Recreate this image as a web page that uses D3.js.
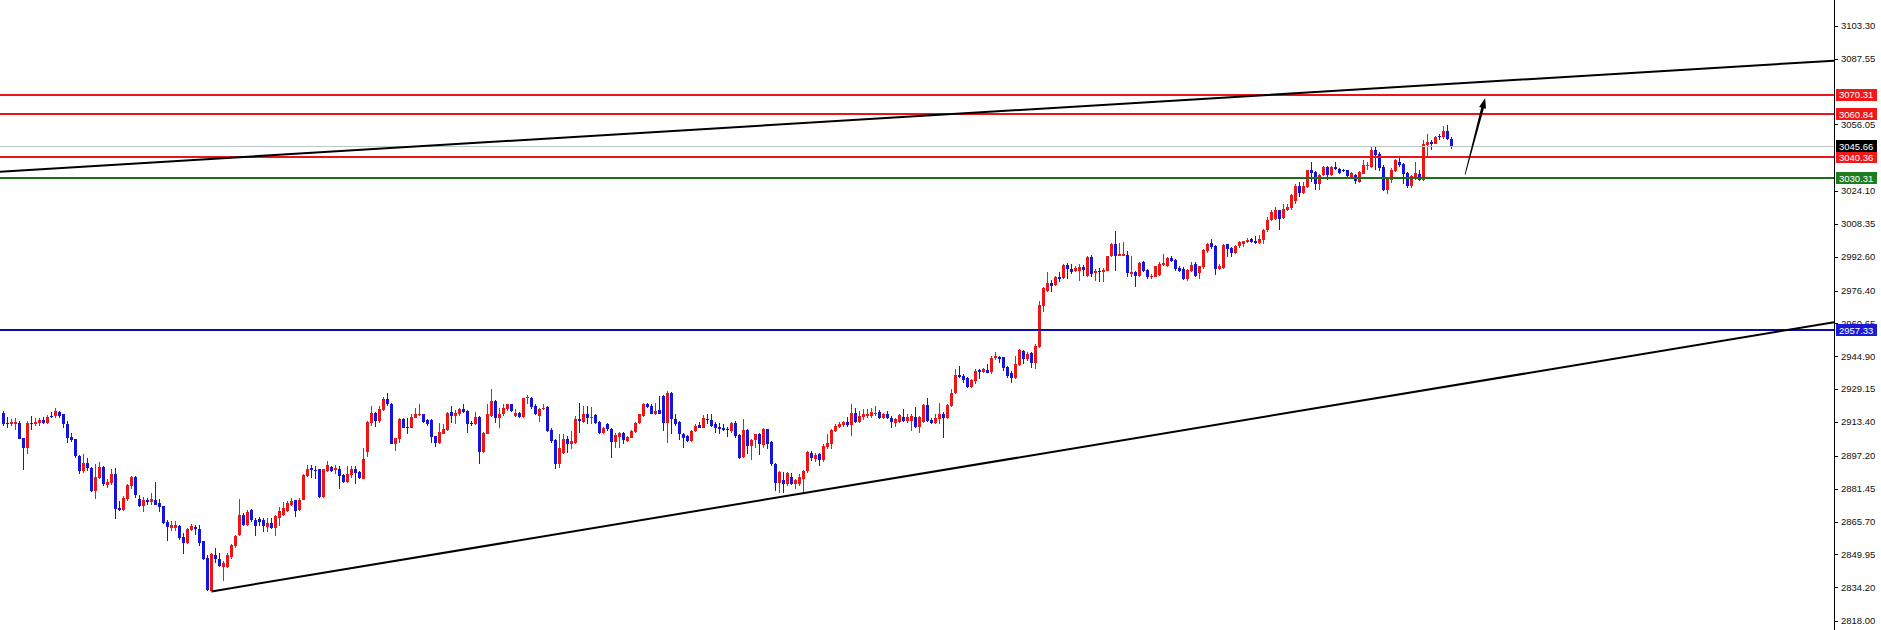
<!DOCTYPE html>
<html>
<head>
<meta charset="utf-8">
<script src="https://cdn.jsdelivr.net/npm/d3@7"></script>
<style>
html,body{margin:0;padding:0;background:#fff;}
svg{display:block;}
</style>
</head>
<body>
<svg id="chart" width="1881" height="630"></svg>
<script>
// ---------------- DATA ----------------
const opens = [2917.9,2913.1,2912.3,2912.6,2913.1,2905.6,2900.8,2913.1,2912.3,2912.8,2914.4,2913.1,2916.3,2916.3,2918.4,2917.1,2912.3,2906.2,2905.1,2897.1,
2889.9,2893.9,2891.5,2880.2,2886.7,2891.8,2883.1,2884.3,2888.3,2872.2,2871.4,2876.6,2882.6,2887.0,2876.7,2873.0,2876.2,2875.1,2876.2,2874.6,
2873.0,2865.5,2862.6,2862.6,2863.4,2858.1,2855.4,2861.8,2862.9,2862.1,2856.2,2848.2,2832.5,2849.8,2847.9,2843.7,2843.9,2848.5,2853.8,2859.1,
2868.7,2863.9,2871.1,2866.6,2866.9,2866.6,2863.1,2865.0,2862.6,2867.4,2869.0,2870.9,2873.8,2875.8,2871.0,2876.2,2887.5,2891.5,2890.3,2890.7,
2877.4,2889.9,2891.8,2890.2,2891.0,2888.0,2884.7,2888.0,2890.7,2889.4,2886.3,2899.2,2913.1,2917.9,2913.9,2919.0,2924.3,2921.9,2903.0,2905.1,
2915.0,2911.0,2910.7,2915.5,2916.6,2917.1,2914.2,2914.2,2906.7,2903.5,2907.8,2909.4,2918.4,2916.3,2917.4,2919.5,2918.7,2913.1,2912.3,2916.0,
2899.2,2907.8,2916.3,2923.5,2915.5,2917.1,2919.5,2921.9,2916.3,2917.9,2916.0,2924.8,2925.1,2921.1,2916.3,2919.5,2920.6,2909.4,2904.6,2893.4,
2898.7,2905.1,2902.7,2903.5,2914.7,2913.6,2917.1,2915.5,2916.8,2913.5,2908.0,2912.3,2909.9,2904.0,2906.2,2908.3,2904.3,2905.9,2908.8,2912.8,
2916.3,2922.2,2921.1,2917.4,2919.0,2925.9,2913.1,2927.5,2914.7,2913.6,2907.8,2906.7,2904.3,2909.1,2912.0,2910.7,2915.0,2914.2,2912.6,2911.0,
2910.4,2910.1,2909.1,2913.1,2907.0,2896.6,2909.4,2901.9,2904.6,2907.5,2902.4,2909.9,2904.0,2893.4,2884.3,2885.4,2883.8,2887.0,2883.8,2883.8,
2886.3,2889.9,2898.7,2895.5,2898.2,2895.0,2901.4,2903.0,2909.1,2911.2,2911.8,2913.6,2911.8,2917.6,2913.4,2915.8,2916.3,2916.3,2917.1,2918.4,
2915.5,2917.4,2915.5,2913.1,2913.6,2915.8,2913.9,2913.9,2915.8,2911.0,2913.6,2921.6,2914.2,2913.1,2914.7,2917.4,2915.2,2921.1,2927.5,2936.0,
2935.5,2934.7,2930.2,2933.1,2938.3,2937.6,2938.3,2937.6,2944.0,2944.7,2944.4,2939.9,2936.7,2934.7,2940.8,2947.6,2943.5,2946.3,2941.5,2949.5,
2969.2,2976.4,2979.9,2979.3,2983.1,2982.5,2988.9,2986.8,2985.7,2986.0,2987.6,2983.6,2992.4,2984.7,2986.0,2985.2,2986.0,2992.8,2998.9,2993.2,
2993.2,2993.7,2984.4,2985.2,2983.6,2990.0,2986.4,2982.8,2983.1,2983.9,2988.9,2988.4,2992.0,2991.2,2987.3,2986.8,2982.0,2986.0,2989.2,2984.7,
2987.6,2995.3,2999.2,2997.6,2986.8,2987.3,2998.5,2996.9,2994.4,2997.6,2998.9,2999.6,3001.3,3000.1,2999.2,3000.8,3005.3,3010.4,3010.8,3014.9,
3011.3,3015.2,3016.1,3019.4,3026.4,3023.2,3026.1,3034.1,3033.3,3027.7,3031.7,3035.7,3031.7,3035.7,3034.9,3034.4,3034.1,3030.9,3031.7,3028.5,
3032.5,3036.0,3035.7,3044.0,3042.1,3035.7,3024.5,3029.3,3033.8,3038.1,3037.3,3032.8,3026.4,3030.1,3032.5,3029.3,3046.1,3047.7,3046.9,3050.4,
3049.8,3053.0,3049.3];
const highs = [2918.7,2915.8,2914.7,2915.2,2913.9,2905.9,2913.9,2916.2,2915.5,2915.5,2915.8,2916.8,2918.4,2920.0,2918.7,2917.4,2913.9,2908.3,2905.4,2897.6,
2897.9,2896.3,2891.8,2893.1,2894.4,2892.1,2885.9,2891.1,2891.5,2875.4,2877.8,2883.8,2887.5,2887.5,2878.6,2877.4,2877.0,2879.4,2884.7,2876.7,
2873.3,2866.6,2865.8,2866.1,2864.2,2860.2,2862.6,2864.5,2864.2,2864.2,2856.5,2849.8,2850.6,2853.0,2850.6,2846.6,2850.6,2854.9,2859.4,2876.7,
2869.8,2871.4,2871.9,2867.4,2867.8,2867.4,2867.4,2867.4,2868.7,2872.6,2875.0,2875.4,2877.0,2876.2,2877.0,2888.3,2892.7,2892.7,2892.3,2890.9,
2891.0,2894.7,2892.3,2892.7,2892.3,2888.6,2892.3,2892.3,2892.3,2889.9,2901.1,2913.9,2921.1,2918.4,2921.1,2925.4,2927.5,2922.4,2905.9,2915.5,
2915.5,2915.5,2917.1,2920.0,2921.9,2917.4,2914.7,2914.7,2906.9,2913.1,2912.3,2918.4,2921.1,2919.0,2920.0,2921.9,2919.0,2913.9,2918.4,2916.3,
2908.6,2921.9,2929.1,2923.8,2920.3,2921.9,2922.2,2922.2,2919.5,2918.4,2925.1,2926.4,2925.4,2921.9,2920.3,2922.2,2921.1,2910.7,2905.1,2907.5,
2907.5,2906.7,2909.1,2916.3,2922.4,2921.1,2921.1,2920.6,2917.4,2913.9,2911.0,2912.8,2910.4,2908.3,2908.6,2908.6,2906.5,2909.4,2913.6,2917.4,
2922.6,2922.6,2921.9,2922.4,2925.9,2926.4,2928.3,2927.9,2917.1,2913.9,2908.3,2907.0,2909.4,2912.3,2913.6,2916.8,2917.4,2917.4,2913.6,2913.1,
2912.3,2911.0,2913.6,2913.9,2907.5,2914.7,2909.9,2905.4,2907.8,2908.3,2910.4,2910.2,2904.3,2893.9,2889.9,2889.4,2889.4,2889.1,2886.3,2888.3,
2890.4,2899.5,2899.5,2898.7,2898.7,2902.7,2907.5,2909.9,2912.3,2913.6,2913.9,2915.8,2921.9,2920.3,2918.7,2919.5,2919.5,2920.3,2921.1,2919.0,
2917.9,2918.7,2916.3,2915.5,2917.4,2919.5,2917.1,2917.1,2920.6,2916.3,2921.9,2925.1,2915.5,2917.1,2922.7,2918.4,2922.2,2929.1,2938.7,2940.3,
2936.3,2935.1,2933.9,2938.7,2938.7,2939.1,2941.1,2945.2,2946.8,2945.2,2944.7,2940.3,2937.9,2945.1,2948.4,2947.9,2946.8,2946.8,2950.8,2971.3,
2978.3,2985.2,2981.5,2983.6,2985.2,2989.2,2989.6,2989.2,2988.4,2989.2,2988.9,2993.2,2993.7,2986.8,2987.3,2987.3,2993.2,2999.2,3004.9,2999.2,
2999.6,2995.6,2993.2,2986.0,2990.0,2990.5,2986.8,2984.4,2988.4,2990.0,2994.0,2992.4,2992.8,2991.6,2988.4,2987.6,2986.8,2990.0,2990.0,2988.4,
2996.4,2999.2,3001.3,2998.1,2989.2,2998.5,2998.9,2997.2,2998.1,3000.1,3000.4,3001.7,3001.7,3002.4,3002.9,3006.1,3011.7,3014.9,3016.4,3015.2,
3017.7,3017.7,3022.9,3027.4,3028.5,3028.5,3034.4,3038.1,3033.6,3032.2,3036.0,3036.0,3036.0,3038.1,3035.4,3034.9,3034.4,3033.3,3032.2,3033.8,
3038.9,3038.1,3045.0,3045.0,3042.9,3036.5,3030.9,3035.4,3039.7,3040.5,3037.6,3033.3,3031.7,3038.1,3034.1,3048.5,3051.7,3048.5,3050.4,3051.4,
3055.3,3055.7,3050.1];
const lows = [2911.5,2910.7,2911.5,2909.4,2905.1,2890.2,2897.9,2909.4,2911.7,2911.7,2912.3,2912.3,2915.5,2915.5,2915.5,2910.4,2903.5,2904.0,2896.3,2888.3,
2889.1,2889.9,2879.9,2876.7,2885.9,2882.6,2881.8,2883.1,2866.9,2870.6,2870.9,2875.4,2881.5,2877.0,2872.6,2870.3,2873.8,2873.8,2873.5,2870.3,
2864.5,2856.5,2861.3,2861.0,2857.0,2850.1,2854.9,2861.0,2859.4,2853.8,2847.4,2832.6,2832.2,2845.8,2843.7,2837.3,2843.4,2847.9,2853.0,2858.6,
2863.4,2863.4,2865.5,2858.9,2863.4,2860.7,2860.7,2862.3,2858.6,2863.4,2868.2,2870.3,2873.0,2867.8,2870.6,2875.8,2887.0,2886.7,2886.3,2877.2,
2877.2,2889.5,2889.5,2888.3,2881.5,2884.2,2884.2,2886.7,2883.9,2886.3,2886.3,2896.6,2911.5,2911.0,2913.1,2918.7,2921.1,2902.7,2899.5,2903.5,
2910.4,2907.5,2910.4,2915.2,2916.3,2913.1,2911.5,2903.5,2901.4,2902.7,2907.5,2909.1,2913.1,2912.3,2916.3,2917.9,2908.3,2911.5,2912.0,2893.4,
2898.7,2907.5,2915.8,2913.1,2910.7,2916.3,2918.7,2918.4,2915.8,2915.5,2915.5,2921.9,2919.5,2916.6,2913.6,2919.0,2908.8,2903.5,2890.7,2891.5,
2898.2,2898.7,2900.3,2903.0,2908.3,2913.1,2912.6,2912.6,2912.3,2907.5,2907.5,2909.1,2896.3,2900.8,2900.8,2902.7,2903.8,2905.6,2908.3,2912.3,
2915.8,2920.3,2917.1,2916.8,2917.1,2909.1,2903.5,2907.8,2911.5,2904.6,2901.1,2904.0,2904.0,2908.8,2910.4,2910.4,2912.3,2911.0,2908.3,2907.5,
2909.1,2906.2,2908.3,2905.9,2895.8,2896.3,2897.9,2895.0,2901.1,2897.6,2900.8,2900.3,2892.3,2880.2,2879.4,2879.4,2882.6,2883.1,2881.5,2882.6,
2879.0,2889.1,2894.7,2894.4,2892.3,2894.4,2900.3,2900.3,2908.8,2910.7,2911.0,2911.0,2906.7,2913.1,2913.1,2914.2,2915.5,2915.5,2916.3,2914.7,
2914.7,2914.7,2910.4,2911.0,2913.1,2913.6,2913.1,2909.1,2910.7,2908.3,2913.1,2913.6,2912.3,2912.3,2912.3,2905.6,2914.7,2920.6,2927.0,2934.4,
2932.3,2929.9,2929.9,2931.5,2933.9,2937.1,2936.7,2936.3,2943.1,2941.9,2937.9,2934.4,2932.3,2933.9,2940.3,2941.1,2942.7,2939.5,2938.7,2948.8,
2966.0,2975.6,2975.6,2978.8,2980.4,2982.0,2982.0,2984.4,2985.2,2980.9,2983.6,2983.1,2983.1,2981.2,2980.4,2980.4,2985.7,2992.4,2986.0,2992.8,
2992.8,2982.8,2982.8,2978.0,2982.8,2985.2,2982.0,2982.0,2982.8,2983.6,2988.4,2987.6,2990.0,2986.0,2985.2,2981.5,2981.2,2985.2,2983.1,2982.0,
2986.8,2994.4,2996.4,2984.1,2986.4,2986.8,2992.4,2992.4,2994.0,2996.9,2997.2,2999.2,2999.2,2998.9,2998.9,2998.9,3004.5,3009.8,3010.1,3005.6,
3010.8,3014.5,3015.2,3017.7,3021.3,3022.9,3025.8,3028.5,3024.5,3024.5,3031.2,3029.3,3031.2,3034.4,3032.5,3033.3,3030.9,3030.6,3027.4,3028.0,
3032.2,3034.1,3035.4,3034.4,3033.8,3024.2,3022.9,3028.0,3033.3,3035.7,3027.4,3025.8,3025.8,3029.3,3029.0,3029.0,3040.8,3044.0,3046.6,3048.5,
3049.3,3048.8,3044.5];
const closes = [2912.3,2912.3,2913.4,2913.4,2905.4,2900.8,2913.1,2912.6,2913.6,2914.4,2913.1,2915.8,2916.0,2918.7,2916.3,2912.3,2905.9,2904.8,2897.1,2889.9,
2893.9,2891.5,2880.2,2887.0,2891.8,2883.5,2884.7,2888.3,2871.9,2871.4,2877.0,2883.0,2887.0,2878.3,2873.0,2876.2,2875.0,2876.7,2873.8,2872.6,
2865.0,2862.9,2864.2,2864.2,2857.8,2855.4,2862.1,2863.4,2862.1,2855.4,2847.7,2833.0,2850.1,2847.9,2844.2,2845.8,2849.8,2854.6,2858.9,2868.7,
2863.9,2870.3,2866.6,2863.4,2865.5,2863.4,2865.0,2862.6,2868.2,2870.6,2872.2,2874.6,2875.4,2870.6,2876.2,2888.0,2891.1,2890.2,2889.9,2877.4,
2890.7,2892.6,2889.9,2891.5,2887.5,2884.7,2888.3,2891.0,2889.1,2886.7,2895.5,2913.6,2917.9,2913.9,2919.5,2924.3,2921.9,2903.0,2905.9,2915.0,
2910.7,2910.7,2916.0,2917.4,2917.4,2913.6,2912.6,2906.2,2903.5,2908.6,2909.9,2917.9,2916.3,2917.9,2919.5,2918.4,2912.6,2912.3,2916.0,2899.2,
2908.3,2917.1,2923.5,2915.5,2917.4,2920.3,2921.9,2918.7,2917.9,2916.0,2924.8,2925.4,2920.6,2917.1,2919.5,2920.3,2909.1,2904.3,2893.4,2901.1,
2905.1,2902.7,2904.3,2914.7,2913.9,2917.1,2915.5,2916.0,2912.8,2908.0,2910.4,2909.9,2904.0,2907.2,2908.3,2904.6,2906.2,2909.1,2913.1,2917.1,
2922.2,2920.6,2917.4,2918.7,2917.4,2913.1,2927.5,2914.7,2912.3,2907.5,2905.9,2904.3,2909.1,2911.5,2910.7,2915.2,2914.2,2911.5,2910.7,2909.9,
2909.4,2909.4,2912.8,2906.7,2896.3,2909.6,2901.9,2904.6,2907.5,2902.7,2909.9,2902.7,2893.1,2884.3,2889.4,2883.8,2889.1,2883.8,2885.4,2887.0,
2889.9,2899.0,2896.3,2897.4,2895.0,2901.9,2903.5,2909.4,2911.5,2912.6,2913.6,2911.8,2917.6,2913.6,2916.3,2917.4,2917.4,2918.4,2917.9,2915.2,
2917.1,2915.2,2913.6,2914.7,2916.8,2913.9,2915.8,2916.3,2911.0,2915.8,2921.6,2913.9,2913.1,2915.2,2917.1,2915.2,2921.6,2927.5,2936.0,2935.1,
2933.4,2930.2,2933.4,2937.9,2937.6,2938.7,2937.1,2944.0,2945.2,2943.6,2939.5,2935.5,2934.7,2941.1,2947.9,2943.5,2945.9,2941.9,2950.0,2969.7,
2977.7,2979.9,2978.8,2983.1,2982.0,2988.9,2986.8,2985.2,2987.3,2987.6,2986.4,2992.4,2984.4,2986.0,2985.2,2986.4,2992.8,2998.9,2993.2,2994.0,
2994.0,2984.7,2985.2,2983.6,2989.6,2985.7,2982.8,2983.6,2988.0,2989.2,2989.6,2992.1,2990.8,2986.8,2986.0,2982.0,2986.4,2988.9,2983.6,2988.0,
2996.0,2998.9,2997.2,2986.8,2988.0,2998.1,2996.4,2994.4,2997.6,2999.6,3000.1,3000.8,2999.6,2999.2,3001.3,3005.6,3010.4,3014.1,3015.2,3010.8,
3015.7,3016.4,3022.1,3026.4,3023.2,3026.4,3034.1,3032.8,3027.7,3031.7,3035.7,3031.7,3035.7,3034.9,3033.0,3033.8,3031.2,3032.8,3029.0,3033.3,
3036.5,3036.5,3044.0,3041.3,3035.4,3024.5,3030.1,3034.4,3038.9,3036.5,3032.2,3026.4,3031.2,3032.8,3029.3,3046.9,3047.7,3046.9,3050.1,3049.8,
3053.0,3049.3,3045.66];

// horizontal levels
const levelPrices = [3070.31, 3060.84, 3040.36, 3030.31, 2957.33];
const levelKinds  = ["res", "res", "res", "sup", "base"];
const bidPrice = 3045.66;

// axis tick labels (as shown)
const tickLabels = ["3103.30","3087.55","3056.05","3024.10","3008.35","2992.60","2976.40","2960.65","2944.90",
  "2929.15","2913.40","2897.20","2881.45","2865.70","2849.95","2834.20","2818.00"];

// trend lines: [barIndex, price] anchor pairs
const trendLower = [[52, 2832.2], [457.6, 2961.2]];
const trendUpper = [[-0.875, 3033.4], [457.6, 3086.6]];
// projected move arrow
const arrowFrom = [365.4, 3032.15];
const arrowTo   = [370.4, 3068.6];

// ---------------- DRAW ----------------
const W = 1881, H = 630;
const axisX = 1834;
const svg = d3.select("#chart");

const n = closes.length;
const x = d3.scaleLinear().domain([0, n - 1]).range([3.5, 3.5 + 4 * (n - 1)]);
const y = d3.scaleLinear().domain([2813.69, 3115.71]).range([H, 0]);

svg.append("rect").attr("width", W).attr("height", H).attr("fill", "#ffffff");

const UP = "#ee1515", DOWN = "#1414dc";
const candles = d3.range(n).map(i => ({i, o: opens[i], h: highs[i], l: lows[i], c: closes[i]}));

const g = svg.append("g").attr("shape-rendering", "crispEdges");
// wicks
g.selectAll("rect.wick").data(candles).join("rect")
  .attr("class", "wick")
  .attr("x", d => Math.floor(x(d.i)))
  .attr("width", 1)
  .attr("y", d => Math.round(y(d.h)))
  .attr("height", d => Math.max(1, Math.round(y(d.l)) - Math.round(y(d.h))))
  .attr("fill", d => d.c >= d.o ? UP : DOWN);
// bodies
g.selectAll("rect.body").data(candles).join("rect")
  .attr("class", "body")
  .attr("x", d => Math.floor(x(d.i)) - 1)
  .attr("width", 3)
  .attr("y", d => Math.round(y(Math.max(d.o, d.c))))
  .attr("height", d => Math.max(1, Math.round(y(Math.min(d.o, d.c))) - Math.round(y(Math.max(d.o, d.c)))))
  .attr("fill", d => d.c >= d.o ? UP : DOWN);

// bid line
svg.append("line")
  .attr("x1", 0).attr("x2", axisX)
  .attr("y1", Math.round(y(bidPrice)) + 0.5).attr("y2", Math.round(y(bidPrice)) + 0.5)
  .attr("stroke", "#bcc6c6").attr("stroke-width", 1);

// horizontal levels
const lineColor = {res: "#e8161b", sup: "#1d6d1d", base: "#0b0ba6"};
const boxColor  = {res: "#f01818", sup: "#1f7d1f", base: "#1a1ad6"};
const levels = levelPrices.map((p, k) => ({p, kind: levelKinds[k]}));
svg.selectAll("line.level").data(levels).join("line")
  .attr("class", "level")
  .attr("x1", 0).attr("x2", axisX)
  .attr("y1", d => Math.round(y(d.p)))
  .attr("y2", d => Math.round(y(d.p)))
  .attr("stroke", d => lineColor[d.kind])
  .attr("stroke-width", 2)
  .attr("shape-rendering", "crispEdges");

// trend lines (rays extended to the axis)
function ray(anchors, xStart) {
  const [a, b] = anchors;
  const x1 = x(a[0]), y1 = y(a[1]), x2 = x(b[0]), y2 = y(b[1]);
  const s = (y2 - y1) / (x2 - x1);
  const xs = xStart === undefined ? x1 : xStart;
  return [[xs, y1 + s * (xs - x1)], [axisX, y1 + s * (axisX - x1)]];
}
const tl = [ray(trendLower), ray(trendUpper, 0)];
svg.selectAll("line.trend").data(tl).join("line")
  .attr("class", "trend")
  .attr("x1", d => d[0][0]).attr("y1", d => d[0][1])
  .attr("x2", d => d[1][0]).attr("y2", d => d[1][1])
  .attr("stroke", "#000").attr("stroke-width", 2);

// arrow
(function () {
  const tx = x(arrowFrom[0]), ty = y(arrowFrom[1]);
  const hx = x(arrowTo[0]), hy = y(arrowTo[1]);
  const len = Math.hypot(hx - tx, hy - ty);
  const ux = (hx - tx) / len, uy = (hy - ty) / len;
  const px = -uy, py = ux;
  const headLen = 10, headW = 3.6;
  const nx = hx - ux * headLen, ny = hy - uy * headLen;
  const pts = [
    [tx + px * 0.4, ty + py * 0.4],
    [nx + px * 1.4, ny + py * 1.4],
    [nx + px * headW, ny + py * headW],
    [hx, hy],
    [nx - px * headW, ny - py * headW],
    [nx - px * 1.4, ny - py * 1.4],
    [tx - px * 0.4, ty - py * 0.4]
  ];
  svg.append("path").attr("d", d3.line()(pts) + "Z").attr("fill", "#000");
})();

// axis area
svg.append("rect").attr("x", axisX + 1).attr("y", 0).attr("width", W - axisX - 1).attr("height", H).attr("fill", "#fff");
svg.append("line").attr("x1", axisX + 0.5).attr("x2", axisX + 0.5).attr("y1", 0).attr("y2", H)
  .attr("stroke", "#000").attr("stroke-width", 1);

const ticks = tickLabels.map(t => ({t, v: +t}));
svg.selectAll("line.tick").data(ticks).join("line")
  .attr("class", "tick")
  .attr("x1", axisX + 1).attr("x2", axisX + 4)
  .attr("y1", d => Math.round(y(d.v)) + 0.5).attr("y2", d => Math.round(y(d.v)) + 0.5)
  .attr("stroke", "#000").attr("stroke-width", 1);
svg.selectAll("text.tick").data(ticks).join("text")
  .attr("class", "tick")
  .attr("x", axisX + 7)
  .attr("y", d => y(d.v))
  .attr("dy", "0.35em")
  .attr("font-family", "'Liberation Sans', Arial, sans-serif")
  .attr("font-size", "9.5px")
  .attr("fill", "#111")
  .text(d => d.t);

// price boxes
const boxes = levels.map(d => ({p: d.p, bg: boxColor[d.kind]}))
  .concat([{p: bidPrice, bg: "#000"}]);
const bg = svg.selectAll("g.box").data(boxes).join("g").attr("class", "box");
bg.append("rect")
  .attr("x", axisX + 2).attr("width", 41)
  .attr("y", d => Math.round(y(d.p)) - 6).attr("height", 12)
  .attr("fill", d => d.bg);
bg.append("text")
  .attr("x", axisX + 5)
  .attr("y", d => y(d.p))
  .attr("dy", "0.36em")
  .attr("font-family", "'Liberation Sans', Arial, sans-serif")
  .attr("font-size", "9.5px")
  .attr("fill", "#fff")
  .text(d => d.p.toFixed(2));
</script>
</body>
</html>
